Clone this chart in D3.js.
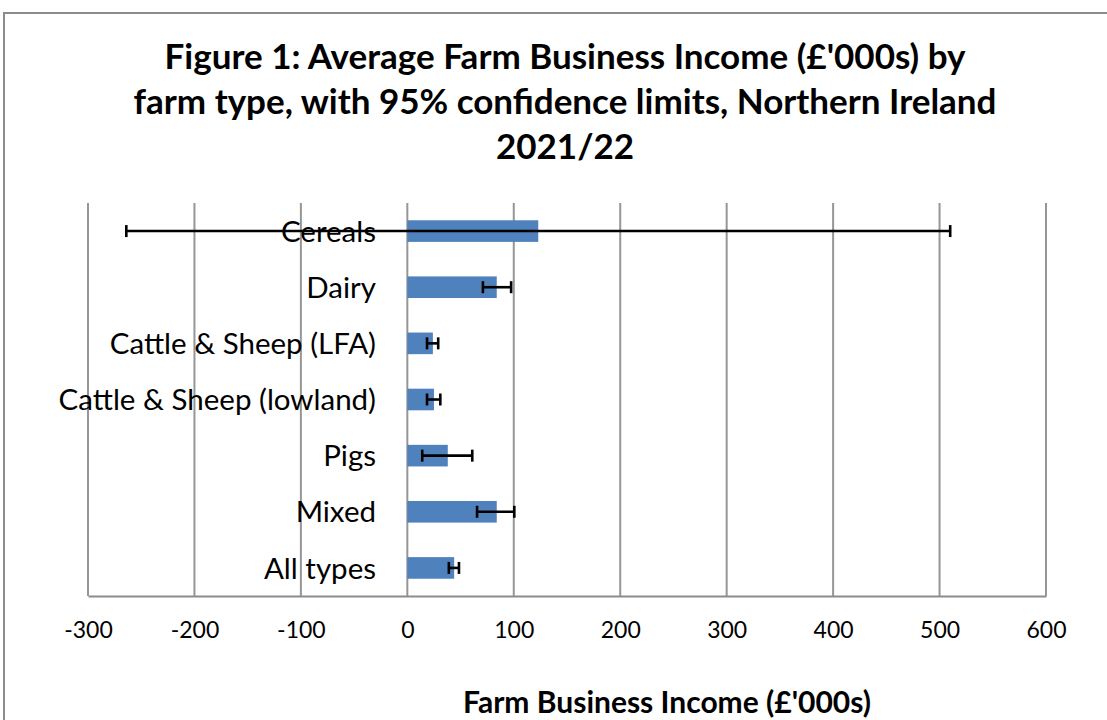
<!doctype html>
<html lang="en">
<head>
    <meta charset="UTF-8">
    <title>Farm Business Income by farm type</title>
    <style>
        body { margin: 0; background: #fff; }
        text { font-family: Lato, "Open Sans", sans-serif; fill: #000; }
    </style>
</head>
<body>

<div class="canvas">
    <svg width="1107" height="720"></svg>
</div>

<script src="https://d3js.org/d3.v7.min.js"></script>
<script>
    // data (£'000s)
    const farmTypes = ['Cereals', 'Dairy', 'Cattle & Sheep (LFA)', 'Cattle & Sheep (lowland)', 'Pigs', 'Mixed', 'All types'];
    const income = [123, 84, 24, 25, 38, 84, 44];
    const lowerLimit = [-264, 71, 18.5, 18.5, 14, 65.5, 39];
    const upperLimit = [510, 97.5, 29, 31, 61, 100.5, 48.5];
    const xTicks = [-300, -200, -100, 0, 100, 200, 300, 400, 500, 600];
    const titleLines = ["Figure 1: Average Farm Business Income (£'000s) by",
                        'farm type, with 95% confidence limits, Northern Ireland',
                        '2021/22'];
    const xTitle = "Farm Business Income (£'000s)";

    const data = farmTypes.map((name, i) => ({
        name: name, value: income[i], lo: lowerLimit[i], hi: upperLimit[i]
    }));

    const svg = d3.select('.canvas svg');

    // chart frame
    svg.append('rect')
        .attr('x', 4).attr('y', 13)
        .attr('width', 1130).attr('height', 740)
        .attr('fill', 'none')
        .attr('stroke', '#8c8c8c')
        .attr('stroke-width', 2);

    const x = d3.scaleLinear()
        .domain([-300, 600])
        .range([88, 1046]);

    const y = d3.scaleBand()
        .domain(farmTypes)
        .range([203, 596])
        .paddingInner(0.615)
        .paddingOuter(0.3075);

    // title
    svg.append('text')
        .attr('text-anchor', 'middle')
        .style('font-size', '35px')
        .style('font-weight', 'bold')
        .selectAll('tspan')
        .data(titleLines)
        .join('tspan')
        .attr('x', 565)
        .attr('y', (d, i) => 69 + i * 45)
        .text(d => d);

    // gridlines
    svg.append('g')
        .selectAll('line')
        .data(xTicks)
        .join('line')
        .attr('x1', d => x(d)).attr('x2', d => x(d))
        .attr('y1', 203).attr('y2', 596)
        .attr('stroke', '#969696')
        .attr('stroke-width', 2);

    // x axis
    const xAxis = svg.append('g')
        .attr('transform', 'translate(0,596)')
        .call(d3.axisBottom(x).tickValues(xTicks).tickFormat(d => String(d)).tickSize(0).tickPadding(26));
    xAxis.select('.domain').attr('stroke', '#8c8c8c').attr('stroke-width', 2);
    xAxis.selectAll('.tick text')
        .style('font-size', '23px')
        .style('font-family', 'Lato, "Open Sans", sans-serif');

    // category labels
    svg.append('g')
        .selectAll('text')
        .data(data)
        .join('text')
        .attr('x', 376)
        .attr('y', d => y(d.name) + y.bandwidth() / 2)
        .attr('dy', '0.36em')
        .attr('text-anchor', 'end')
        .style('font-size', '29.5px')
        .text(d => d.name);

    // bars
    svg.append('g')
        .selectAll('rect')
        .data(data)
        .join('rect')
        .attr('x', d => x(Math.min(0, d.value)))
        .attr('y', d => y(d.name))
        .attr('width', d => Math.abs(x(d.value) - x(0)))
        .attr('height', y.bandwidth())
        .attr('fill', '#4f81bd');

    // error bars
    const err = svg.append('g')
        .attr('stroke', '#000')
        .attr('stroke-width', 2.6);
    const mid = d => y(d.name) + y.bandwidth() / 2;
    err.selectAll('.whisker')
        .data(data)
        .join('line')
        .attr('class', 'whisker')
        .attr('x1', d => x(d.lo)).attr('x2', d => x(d.hi))
        .attr('y1', mid).attr('y2', mid);
    err.selectAll('.cap-lo')
        .data(data)
        .join('line')
        .attr('class', 'cap-lo')
        .attr('x1', d => x(d.lo)).attr('x2', d => x(d.lo))
        .attr('y1', d => mid(d) - 6).attr('y2', d => mid(d) + 6);
    err.selectAll('.cap-hi')
        .data(data)
        .join('line')
        .attr('class', 'cap-hi')
        .attr('x1', d => x(d.hi)).attr('x2', d => x(d.hi))
        .attr('y1', d => mid(d) - 6).attr('y2', d => mid(d) + 6);

    // axis title
    svg.append('text')
        .attr('x', 667)
        .attr('y', 713)
        .attr('text-anchor', 'middle')
        .style('font-size', '30px')
        .style('font-weight', 'bold')
        .text(xTitle);
</script>
</body>
</html>
